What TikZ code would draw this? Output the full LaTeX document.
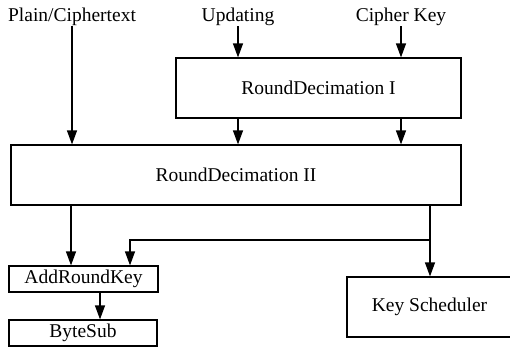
\documentclass[tikz,border=0pt]{standalone}
\usepackage{fontspec}
\setmainfont{Liberation Serif}
\usetikzlibrary{arrows.meta}
\begin{document}
\begin{tikzpicture}[x=1pt,y=-1pt,
  every node/.style={font=\fontsize{19.5}{22}\selectfont},
  box/.style={draw,line width=1.2pt,rectangle,inner sep=0pt},
  lbl/.style={inner sep=0pt},
  conn/.style={line width=1.2pt},
  arr/.style={conn,-{Triangle[length=14pt,width=10pt]}}]
\useasboundingbox (0,0) rectangle (510,359);
\node[lbl] (plain) at (72,17) {Plain/Ciphertext};
\node[lbl] (upd) at (238,17) {Updating};
\node[lbl] (ck) at (401,17) {Cipher Key};
\node[box,minimum width=285pt,minimum height=60pt] (rd1) at (318.5,88) {RoundDecimation I};
\node[box,minimum width=450pt,minimum height=60pt] (rd2) at (236,175) {RoundDecimation II};
\node[box,minimum width=149pt,minimum height=26pt] (ark) at (83.5,279) {AddRoundKey};
\node[box,minimum width=148pt,minimum height=26pt] (bs) at (83,333) {ByteSub};
\node[box,minimum width=165pt,minimum height=60pt] (ks) at (429.5,307) {Key Scheduler};
\coordinate (br) at (430,240);
\draw[arr] (plain.south) -- (plain.south |- rd2.north);
\draw[arr] (upd.south) -- (upd.south |- rd1.north);
\draw[arr] (ck.south) -- (ck.south |- rd1.north);
\draw[arr] (rd1.south -| upd) -- (rd2.north -| upd);
\draw[arr] (rd1.south -| ck) -- (rd2.north -| ck);
\draw[arr] (rd2.south -| 71,0) -- (ark.north -| 71,0);
\draw[arr] (ark.south -| 100,0) -- (bs.north -| 100,0);
\draw[arr] (rd2.south -| br) -- (ks.north -| br);
\draw[arr] (br) -- (130,240) -- (ark.north -| 130,0);
\end{tikzpicture}
\end{document}
